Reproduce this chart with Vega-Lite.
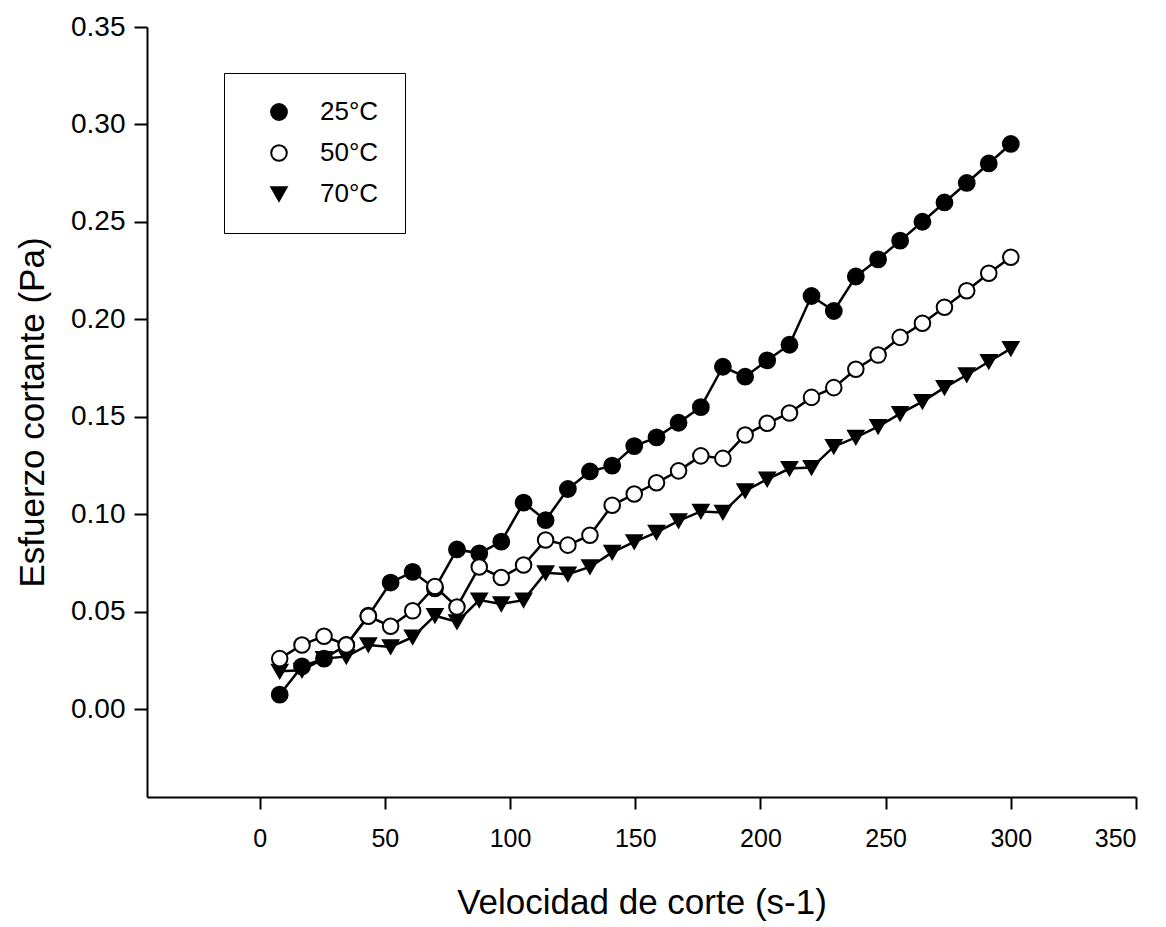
{
  "$schema": "https://vega.github.io/schema/vega-lite/v6.json",
  "width": 989,
  "height": 770,
  "autosize": {"type": "none"},
  "padding": {"left": 147, "top": 27, "right": 30, "bottom": 130},
  "background": "white",
  "config": {
    "view": {"stroke": null},
    "font": "Liberation Sans",
    "axis": {
      "grid": false,
      "domainColor": "black",
      "domainWidth": 2,
      "tickColor": "black",
      "tickWidth": 2,
      "labelColor": "black",
      "titleColor": "black",
      "labelFont": "Liberation Sans",
      "titleFont": "Liberation Sans",
      "titleFontWeight": "normal",
      "titleFontSize": 35
    },
    "axisX": {"labelFontSize": 25},
    "axisY": {"labelFontSize": 28}
  },
  "data": {
    "values": [
      {"x": 8.0, "y": 0.0195, "serie": "70°C"},
      {"x": 16.9, "y": 0.020, "serie": "70°C"},
      {"x": 25.7, "y": 0.026, "serie": "70°C"},
      {"x": 34.6, "y": 0.027, "serie": "70°C"},
      {"x": 43.4, "y": 0.033, "serie": "70°C"},
      {"x": 52.3, "y": 0.032, "serie": "70°C"},
      {"x": 61.1, "y": 0.037, "serie": "70°C"},
      {"x": 70.0, "y": 0.048, "serie": "70°C"},
      {"x": 78.8, "y": 0.0448, "serie": "70°C"},
      {"x": 87.7, "y": 0.056, "serie": "70°C"},
      {"x": 96.5, "y": 0.054, "serie": "70°C"},
      {"x": 105.4, "y": 0.056, "serie": "70°C"},
      {"x": 114.2, "y": 0.070, "serie": "70°C"},
      {"x": 123.1, "y": 0.0693, "serie": "70°C"},
      {"x": 131.9, "y": 0.073, "serie": "70°C"},
      {"x": 140.8, "y": 0.0805, "serie": "70°C"},
      {"x": 149.6, "y": 0.0859, "serie": "70°C"},
      {"x": 158.5, "y": 0.0908, "serie": "70°C"},
      {"x": 167.3, "y": 0.0966, "serie": "70°C"},
      {"x": 176.2, "y": 0.1015, "serie": "70°C"},
      {"x": 185.0, "y": 0.101, "serie": "70°C"},
      {"x": 193.9, "y": 0.112, "serie": "70°C"},
      {"x": 202.7, "y": 0.118, "serie": "70°C"},
      {"x": 211.6, "y": 0.1235, "serie": "70°C"},
      {"x": 220.4, "y": 0.124, "serie": "70°C"},
      {"x": 229.3, "y": 0.1347, "serie": "70°C"},
      {"x": 238.1, "y": 0.1395, "serie": "70°C"},
      {"x": 247.0, "y": 0.145, "serie": "70°C"},
      {"x": 255.8, "y": 0.1517, "serie": "70°C"},
      {"x": 264.7, "y": 0.1578, "serie": "70°C"},
      {"x": 273.5, "y": 0.165, "serie": "70°C"},
      {"x": 282.4, "y": 0.1715, "serie": "70°C"},
      {"x": 291.2, "y": 0.1783, "serie": "70°C"},
      {"x": 300.0, "y": 0.185, "serie": "70°C"},
      {"x": 8.0, "y": 0.0075, "serie": "25°C"},
      {"x": 16.9, "y": 0.022, "serie": "25°C"},
      {"x": 25.7, "y": 0.026, "serie": "25°C"},
      {"x": 34.6, "y": 0.033, "serie": "25°C"},
      {"x": 43.4, "y": 0.048, "serie": "25°C"},
      {"x": 52.3, "y": 0.065, "serie": "25°C"},
      {"x": 61.1, "y": 0.0705, "serie": "25°C"},
      {"x": 70.0, "y": 0.062, "serie": "25°C"},
      {"x": 78.8, "y": 0.082, "serie": "25°C"},
      {"x": 87.7, "y": 0.080, "serie": "25°C"},
      {"x": 96.5, "y": 0.086, "serie": "25°C"},
      {"x": 105.4, "y": 0.106, "serie": "25°C"},
      {"x": 114.2, "y": 0.097, "serie": "25°C"},
      {"x": 123.1, "y": 0.113, "serie": "25°C"},
      {"x": 131.9, "y": 0.122, "serie": "25°C"},
      {"x": 140.8, "y": 0.125, "serie": "25°C"},
      {"x": 149.6, "y": 0.135, "serie": "25°C"},
      {"x": 158.5, "y": 0.1395, "serie": "25°C"},
      {"x": 167.3, "y": 0.147, "serie": "25°C"},
      {"x": 176.2, "y": 0.155, "serie": "25°C"},
      {"x": 185.0, "y": 0.1757, "serie": "25°C"},
      {"x": 193.9, "y": 0.1706, "serie": "25°C"},
      {"x": 202.7, "y": 0.179, "serie": "25°C"},
      {"x": 211.6, "y": 0.187, "serie": "25°C"},
      {"x": 220.4, "y": 0.212, "serie": "25°C"},
      {"x": 229.3, "y": 0.2043, "serie": "25°C"},
      {"x": 238.1, "y": 0.222, "serie": "25°C"},
      {"x": 247.0, "y": 0.2308, "serie": "25°C"},
      {"x": 255.8, "y": 0.2404, "serie": "25°C"},
      {"x": 264.7, "y": 0.2501, "serie": "25°C"},
      {"x": 273.5, "y": 0.260, "serie": "25°C"},
      {"x": 282.4, "y": 0.270, "serie": "25°C"},
      {"x": 291.2, "y": 0.280, "serie": "25°C"},
      {"x": 300.0, "y": 0.290, "serie": "25°C"},
      {"x": 8.0, "y": 0.026, "serie": "50°C"},
      {"x": 16.9, "y": 0.033, "serie": "50°C"},
      {"x": 25.7, "y": 0.0375, "serie": "50°C"},
      {"x": 34.6, "y": 0.033, "serie": "50°C"},
      {"x": 43.4, "y": 0.0477, "serie": "50°C"},
      {"x": 52.3, "y": 0.0426, "serie": "50°C"},
      {"x": 61.1, "y": 0.0505, "serie": "50°C"},
      {"x": 70.0, "y": 0.063, "serie": "50°C"},
      {"x": 78.8, "y": 0.0525, "serie": "50°C"},
      {"x": 87.7, "y": 0.073, "serie": "50°C"},
      {"x": 96.5, "y": 0.0676, "serie": "50°C"},
      {"x": 105.4, "y": 0.074, "serie": "50°C"},
      {"x": 114.2, "y": 0.0868, "serie": "50°C"},
      {"x": 123.1, "y": 0.0842, "serie": "50°C"},
      {"x": 131.9, "y": 0.0893, "serie": "50°C"},
      {"x": 140.8, "y": 0.1047, "serie": "50°C"},
      {"x": 149.6, "y": 0.1104, "serie": "50°C"},
      {"x": 158.5, "y": 0.1162, "serie": "50°C"},
      {"x": 167.3, "y": 0.1223, "serie": "50°C"},
      {"x": 176.2, "y": 0.130, "serie": "50°C"},
      {"x": 185.0, "y": 0.1287, "serie": "50°C"},
      {"x": 193.9, "y": 0.1407, "serie": "50°C"},
      {"x": 202.7, "y": 0.1467, "serie": "50°C"},
      {"x": 211.6, "y": 0.152, "serie": "50°C"},
      {"x": 220.4, "y": 0.160, "serie": "50°C"},
      {"x": 229.3, "y": 0.165, "serie": "50°C"},
      {"x": 238.1, "y": 0.1744, "serie": "50°C"},
      {"x": 247.0, "y": 0.1817, "serie": "50°C"},
      {"x": 255.8, "y": 0.1908, "serie": "50°C"},
      {"x": 264.7, "y": 0.198, "serie": "50°C"},
      {"x": 273.5, "y": 0.2062, "serie": "50°C"},
      {"x": 282.4, "y": 0.2147, "serie": "50°C"},
      {"x": 291.2, "y": 0.2237, "serie": "50°C"},
      {"x": 300.0, "y": 0.2319, "serie": "50°C"}
    ]
  },
  "encoding": {
    "x": {
      "field": "x",
      "type": "quantitative",
      "scale": {"domain": [-45, 350], "nice": false, "zero": false},
      "axis": {
        "values": [0, 50, 100, 150, 200, 250, 300, 350],
        "title": "Velocidad de corte (s-1)",
        "tickSize": 12,
        "labelPadding": 17,
        "titlePadding": 34
      }
    },
    "y": {
      "field": "y",
      "type": "quantitative",
      "scale": {"domain": [-0.045, 0.35], "nice": false, "zero": false},
      "axis": {
        "values": [0, 0.05, 0.1, 0.15, 0.2, 0.25, 0.3, 0.35],
        "format": ".2f",
        "title": "Esfuerzo cortante (Pa)",
        "tickSize": 13,
        "labelPadding": 9,
        "titlePadding": 20
      }
    }
  },
  "layer": [
    {
      "mark": {"type": "line", "color": "black", "strokeWidth": 2.5},
      "encoding": {"detail": {"field": "serie", "type": "nominal"}}
    },
    {
      "mark": {"type": "point", "filled": true, "stroke": "black", "strokeWidth": 2, "opacity": 1},
      "encoding": {
        "fill": {
          "field": "serie",
          "type": "nominal",
          "scale": {"domain": ["25°C", "50°C", "70°C"], "range": ["black", "white", "black"]},
          "legend": {
            "title": null,
            "orient": "none",
            "legendX": 77,
            "legendY": 46,
            "padding": 26,
            "strokeColor": "black",
            "labelFont": "Liberation Sans",
            "labelFontSize": 26,
            "labelColor": "black",
            "rowPadding": 15,
            "symbolSize": 256,
            "symbolOffset": 16,
            "labelOffset": 28,
            "symbolStrokeWidth": 2,
            "symbolStrokeColor": "black"
          }
        },
        "shape": {
          "field": "serie",
          "type": "nominal",
          "scale": {"domain": ["25°C", "50°C", "70°C"], "range": ["circle", "circle", "triangle-down"]}
        },
        "size": {
          "field": "serie",
          "type": "ordinal",
          "scale": {"domain": ["25°C", "50°C", "70°C"], "range": [250, 235, 340]}
        }
      }
    }
  ]
}
